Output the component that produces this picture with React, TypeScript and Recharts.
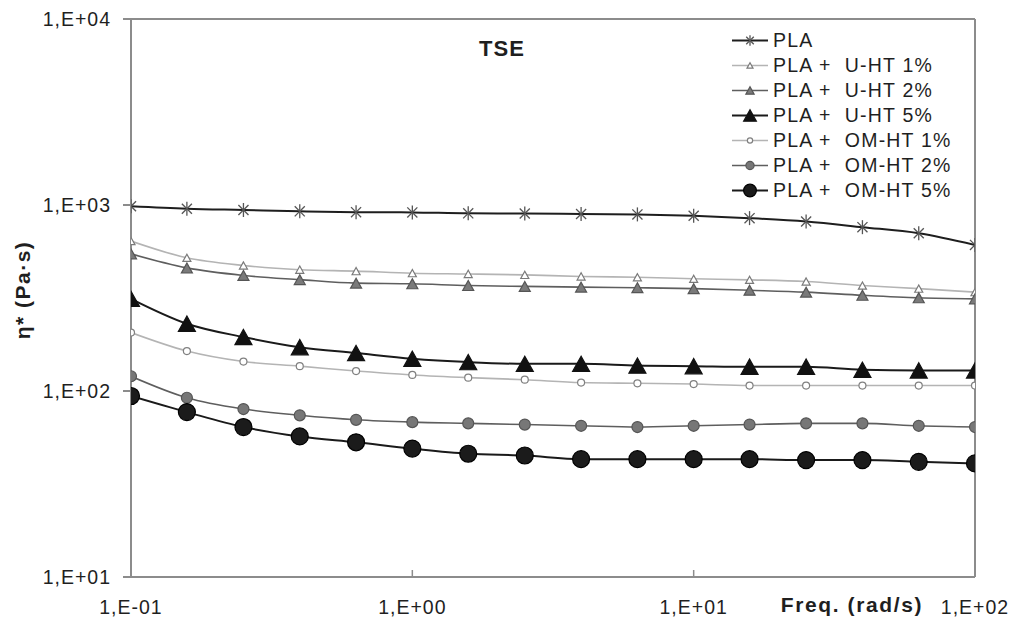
import React from "react"
import { LineChart, Line, XAxis, YAxis, Legend, ReferenceLine } from "recharts"

const freq = [0.1, 0.158, 0.251, 0.398, 0.631, 1, 1.58, 2.51, 3.98, 6.31, 10, 15.8, 25.1, 39.8, 63.1, 100]
const pla = [985, 955, 940, 925, 915, 912, 902, 900, 895, 890, 875, 850, 815, 760, 705, 610]
const uht1 = [640, 520, 473, 449, 441, 430, 426, 421, 413, 409, 401, 396, 388, 369, 355, 340]
const uht2 = [546, 459, 418, 397, 380, 377, 369, 365, 362, 359, 355, 348, 340, 327, 317, 313]
const uht5 = [313, 230, 195, 172, 160, 149, 143, 140, 140, 137, 136, 135, 135, 130, 129, 129]
const omht1 = [206, 164, 144, 136, 128, 122, 118, 115, 111, 110, 109, 107, 107, 107, 107, 107]
const omht2 = [120, 92, 80, 74, 70, 68, 67, 66, 65, 64, 65, 66, 67, 67, 65, 64]
const omht5 = [94, 77, 64, 57, 53, 49, 46, 45, 43, 43, 43, 43, 42.5, 42.5, 41.6, 40.8]

const xTicks = [0.1, 1, 10, 100]
const yTicks = [10, 100, 1000, 10000]

const FONT = "'Liberation Sans', Arial, sans-serif"
const AXIS = "#8c8c8c"
const INK = "#1f1f1f"

type Kind = "star" | "tri" | "circle"

const series = [
  { key: "pla", name: "PLA", values: pla, stroke: "#1e1e1e", width: 2, kind: "star" as Kind, size: 7, fill: "none", edge: "#555" },
  { key: "uht1", name: "PLA +  U-HT 1%", values: uht1, stroke: "#b4b4b4", width: 1.6, kind: "tri" as Kind, size: 8, fill: "#fff", edge: "#7a7a7a" },
  { key: "uht2", name: "PLA +  U-HT 2%", values: uht2, stroke: "#5e5e5e", width: 1.6, kind: "tri" as Kind, size: 11, fill: "#7a7a7a", edge: "#555" },
  { key: "uht5", name: "PLA +  U-HT 5%", values: uht5, stroke: "#1a1a1a", width: 2, kind: "tri" as Kind, size: 17, fill: "#111", edge: "#111" },
  { key: "omht1", name: "PLA +  OM-HT 1%", values: omht1, stroke: "#b4b4b4", width: 1.6, kind: "circle" as Kind, size: 3.5, fill: "#fff", edge: "#808080" },
  { key: "omht2", name: "PLA +  OM-HT 2%", values: omht2, stroke: "#5e5e5e", width: 1.6, kind: "circle" as Kind, size: 5.5, fill: "#777", edge: "#555" },
  { key: "omht5", name: "PLA +  OM-HT 5%", values: omht5, stroke: "#1a1a1a", width: 2, kind: "circle" as Kind, size: 8.5, fill: "#1b1b1b", edge: "#000" },
]

const data = freq.map((f, i) => {
  const row: Record<string, number> = { f }
  series.forEach((s) => (row[s.key] = s.values[i]))
  return row
})

const sci = (v: number) => {
  const e = Math.round(Math.log10(v))
  return `1,E${e < 0 ? "-" : "+"}${String(Math.abs(e)).padStart(2, "0")}`
}

function Marker({ cx, cy, kind, size, fill, edge }: any) {
  if (cx == null || cy == null) return null
  if (kind === "star") {
    const d = size * 0.72
    return (
      <g stroke={edge} strokeWidth={1.3}>
        <line x1={cx} y1={cy - size} x2={cx} y2={cy + size} />
        <line x1={cx - d} y1={cy - d} x2={cx + d} y2={cy + d} />
        <line x1={cx - d} y1={cy + d} x2={cx + d} y2={cy - d} />
      </g>
    )
  }
  if (kind === "tri") {
    const w = size
    const h = size * 0.9
    return (
      <polygon
        points={`${cx},${cy - h / 2} ${cx - w / 2},${cy + h / 2} ${cx + w / 2},${cy + h / 2}`}
        fill={fill}
        stroke={edge}
        strokeWidth={1.2}
      />
    )
  }
  return <circle cx={cx} cy={cy} r={size} fill={fill} stroke={edge} strokeWidth={1.2} />
}

function XTick({ x, y, payload }: any) {
  const axisY = y - 23
  return (
    <g>
      <line x1={x} y1={axisY} x2={x} y2={axisY - 7} stroke={AXIS} strokeWidth={1.5} />
      <text x={x} y={y} dy="0.71em" textAnchor="middle" fontSize={19.5} letterSpacing={1} fill={INK}>
        {sci(payload.value)}
      </text>
    </g>
  )
}

function YTitle({ viewBox }: any) {
  const x = viewBox.x - 49
  const y = viewBox.y + viewBox.height / 2 - 8
  return (
    <text x={x} y={y} transform={`rotate(-90 ${x} ${y})`} textAnchor="middle" dominantBaseline="central"
      fontWeight="bold" fontSize={21} letterSpacing={1.5} fill={INK}>
      η* (Pa·s)
    </text>
  )
}

function XTitle({ viewBox }: any) {
  return (
    <text x={viewBox.x + viewBox.width - 52} y={viewBox.y + 35} textAnchor="end"
      fontWeight="bold" fontSize={21} letterSpacing={1.6} fill={INK}>
      Freq. (rad/s)
    </text>
  )
}

function TopTitle({ viewBox }: any) {
  return (
    <text x={viewBox.x + 371} y={viewBox.y + 37} textAnchor="middle"
      fontWeight="bold" fontSize={22} letterSpacing={1} fill={INK}>
      TSE
    </text>
  )
}

const renderLegend = () => (
  <div style={{ fontFamily: FONT, fontSize: 19.5, letterSpacing: 1.2, color: INK }}>
    {series.map((s) => (
      <div key={s.key} style={{ display: "flex", alignItems: "center", height: 25 }}>
        <svg width={40} height={25} style={{ display: "block" }}>
          <line x1={2} y1={12.5} x2={38} y2={12.5} stroke={s.stroke} strokeWidth={s.width} />
          <Marker cx={20} cy={12.5} kind={s.kind} size={s.size * 0.75} fill={s.fill} edge={s.edge} />
        </svg>
        <span style={{ whiteSpace: "pre", marginLeft: 3, lineHeight: "25px" }}>{s.name}</span>
      </div>
    ))}
  </div>
)

export default function App() {
  return (
    <div style={{ position: "absolute", left: 0, top: 0, width: 1013, height: 618, background: "#fff", fontFamily: FONT }}>
      <LineChart width={1013} height={618} data={data} margin={{ top: 19, right: 38, left: 71, bottom: 11 }}>
        <XAxis
          dataKey="f"
          type="number"
          scale="log"
          domain={[0.1, 100]}
          ticks={xTicks}
          allowDataOverflow
          stroke={AXIS}
          strokeWidth={2}
          tickLine={false}
          tickSize={0}
          tickMargin={23}
          tick={<XTick />}
          height={30}
          label={<XTitle />}
        />
        <YAxis
          scale="log"
          domain={[10, 10000]}
          ticks={yTicks}
          allowDataOverflow
          stroke={AXIS}
          strokeWidth={2}
          tickSize={8}
          tickMargin={12}
          tickFormatter={sci}
          tick={{ fill: INK, fontSize: 19.5, letterSpacing: 1 }}
          width={60}
          label={<YTitle />}
        />
        <ReferenceLine y={10000} stroke={AXIS} strokeWidth={2} label={<TopTitle />} />
        <ReferenceLine x={100} stroke={AXIS} strokeWidth={2} />
        <Legend
          layout="vertical"
          align="center"
          verticalAlign="middle"
          content={renderLegend}
          wrapperStyle={{ top: 28, left: 730, width: 275, height: 180 }}
        />
        {series.map((s) => (
          <Line
            key={s.key}
            dataKey={s.key}
            name={s.name}
            type="monotone"
            stroke={s.stroke}
            strokeWidth={s.width}
            isAnimationActive={false}
            legendType="none"
            dot={(p: any) => (
              <Marker key={`${s.key}-${p.index}`} cx={p.cx} cy={p.cy} kind={s.kind} size={s.size} fill={s.fill} edge={s.edge} />
            )}
            activeDot={false}
          />
        ))}
      </LineChart>
    </div>
  )
}
